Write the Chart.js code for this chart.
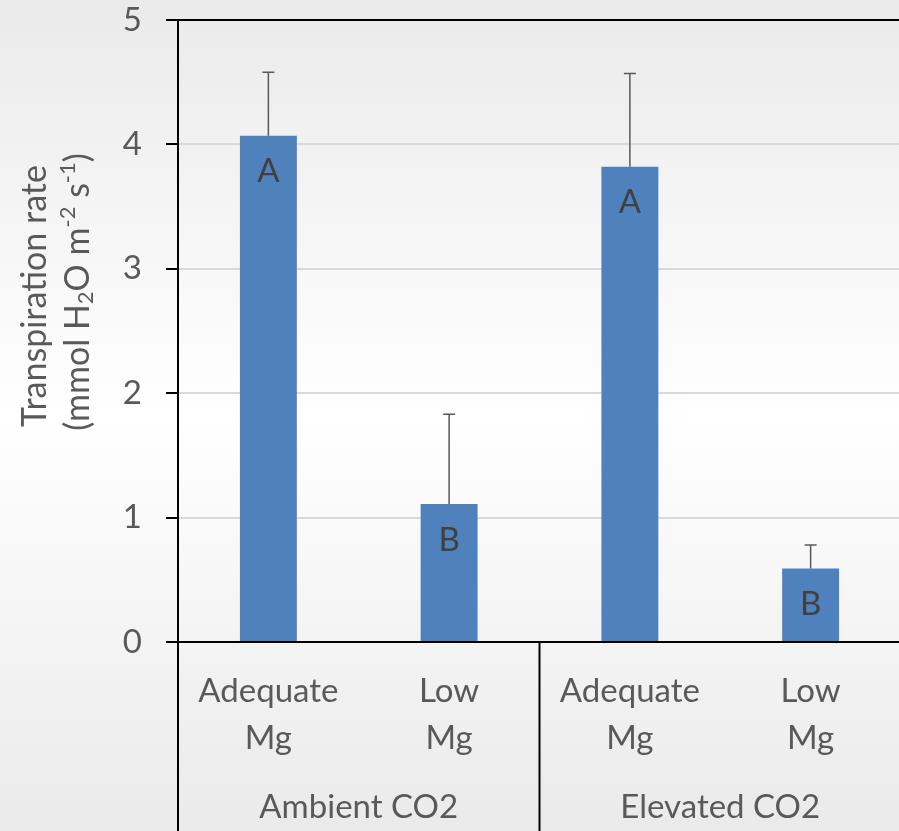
<!DOCTYPE html>
<html>
<head>
<meta charset="utf-8">
<script src="https://cdn.jsdelivr.net/npm/chart.js@4.4.1/dist/chart.umd.min.js"></script>
<style>
  html, body { margin: 0; padding: 0; overflow: hidden; background: #fff; }
  #wrap { position: relative; width: 901px; height: 831px; }
</style>
</head>
<body>
<div id="wrap"><canvas id="chart"></canvas></div>
<script>
const categories = [['Adequate', 'Mg'], ['Low', 'Mg'], ['Adequate', 'Mg'], ['Low', 'Mg']];
const groups = ['Ambient CO2', 'Elevated CO2'];
const rates = [4.07, 1.11, 3.82, 0.59];
const errors = [0.51, 0.72, 0.75, 0.19];
const letters = ['A', 'B', 'A', 'B'];
const yTicks = [0, 1, 2, 3, 4, 5];

const FONT = 'Lato, "Open Sans", sans-serif';
const TEXT = '#595959';

const background = {
    id: 'background',
    beforeDraw(chart) {
        const {ctx, width, height} = chart;
        const g = ctx.createLinearGradient(0, 0, 0, height);
        g.addColorStop(0, '#eaeaea');
        g.addColorStop(0.5, '#ffffff');
        g.addColorStop(1, '#eaeaea');
        ctx.save();
        ctx.fillStyle = g;
        ctx.fillRect(0, 0, width, height);
        ctx.restore();
    }
};

// error bars (upper half only) and significance letters
const barExtras = {
    id: 'barExtras',
    afterDatasetsDraw(chart) {
        const {ctx} = chart;
        const y = chart.scales.y;
        const meta = chart.getDatasetMeta(0);
        ctx.save();
        meta.data.forEach((bar, i) => {
            const top = y.getPixelForValue(rates[i] + errors[i]);
            ctx.strokeStyle = TEXT;
            ctx.lineWidth = 1.5;
            ctx.beginPath();
            ctx.moveTo(bar.x, bar.y);
            ctx.lineTo(bar.x, top);
            ctx.moveTo(bar.x - 6, top);
            ctx.lineTo(bar.x + 6, top);
            ctx.stroke();

            ctx.fillStyle = '#404040';
            ctx.font = '33px ' + FONT;
            ctx.textAlign = 'center';
            ctx.textBaseline = 'middle';
            ctx.fillText(letters[i], bar.x, bar.y + 36);
        });
        ctx.restore();
    }
};

// group labels, separators and the y-axis title
const axisExtras = {
    id: 'axisExtras',
    afterDraw(chart) {
        const {ctx, chartArea} = chart;
        const x = chart.scales.x;
        const bottom = chart.height;
        ctx.save();
        ctx.strokeStyle = '#000';
        ctx.lineWidth = 2;
        const bounds = [-0.5, 1.5, 3.5];
        bounds.forEach(v => {
            const px = v === -0.5 ? chartArea.left : x.getPixelForValue(v);
            ctx.beginPath();
            ctx.moveTo(px, chartArea.bottom);
            ctx.lineTo(px, bottom);
            ctx.stroke();
        });

        ctx.fillStyle = TEXT;
        ctx.font = '33px ' + FONT;
        ctx.textAlign = 'center';
        ctx.textBaseline = 'middle';
        groups.forEach((g, i) => {
            const cx = (x.getPixelForValue(i * 2) + x.getPixelForValue(i * 2 + 1)) / 2;
            ctx.fillText(g, cx, 807);
        });

        drawRotated(ctx, 35, 296, [['Transpiration rate', 0]]);
        drawRotated(ctx, 78, 292, [
            ['(mmol H', 0], ['2', 1], ['O m', 0], ['-2', -1], [' s', 0], ['-1', -1], [')', 0]
        ]);
        ctx.restore();
    }
};

function drawRotated(ctx, cx, cy, parts) {
    const big = '34px ' + FONT;
    const small = '22px ' + FONT;
    let total = 0;
    parts.forEach(p => {
        ctx.font = p[1] === 0 ? big : small;
        total += ctx.measureText(p[0]).width;
    });
    ctx.save();
    ctx.translate(cx, cy);
    ctx.rotate(-Math.PI / 2);
    ctx.fillStyle = TEXT;
    ctx.textAlign = 'left';
    ctx.textBaseline = 'middle';
    let pos = -total / 2;
    parts.forEach(p => {
        ctx.font = p[1] === 0 ? big : small;
        const off = p[1] === 0 ? 0 : (p[1] > 0 ? 8 : -10);
        ctx.fillText(p[0], pos, off);
        pos += ctx.measureText(p[0]).width;
    });
    ctx.restore();
}

new Chart(document.getElementById('chart'), {
    type: 'bar',
    data: {
        labels: categories,
        datasets: [{
            data: rates,
            backgroundColor: '#4f81bd',
            barPercentage: 0.315,
            categoryPercentage: 1
        }]
    },
    options: {
        responsive: true,
        maintainAspectRatio: false,
        animation: false,
        layout: { padding: { top: 20, right: 0, left: 0, bottom: 0 } },
        plugins: { legend: { display: false }, tooltip: { enabled: false } },
        scales: {
            x: {
                offset: true,
                grid: { display: false },
                border: { display: true, color: '#000', width: 2 },
                ticks: {
                    color: TEXT,
                    font: { family: FONT, size: 33, lineHeight: 1.42 },
                    padding: 18,
                    maxRotation: 0,
                    autoSkip: false
                },
                afterFit: s => { s.height = 189; }
            },
            y: {
                min: 0,
                max: 5,
                afterBuildTicks: s => { s.ticks = yTicks.map(v => ({value: v})); },
                grid: {
                    color: c => (c.tick && c.tick.value === 5 ? '#000' : '#d9d9d9'),
                    lineWidth: 2,
                    tickColor: '#000',
                    tickLength: 12
                },
                border: { display: true, color: '#000', width: 2 },
                ticks: {
                    color: TEXT,
                    font: { family: FONT, size: 33, lineHeight: 1 },
                    padding: 24
                },
                afterFit: s => {
                    s.width = 178;
                    s.paddingTop = 0;
                    s.paddingBottom = 0;
                }
            }
        }
    },
    plugins: [background, barExtras, axisExtras]
});
</script>
</body>
</html>
